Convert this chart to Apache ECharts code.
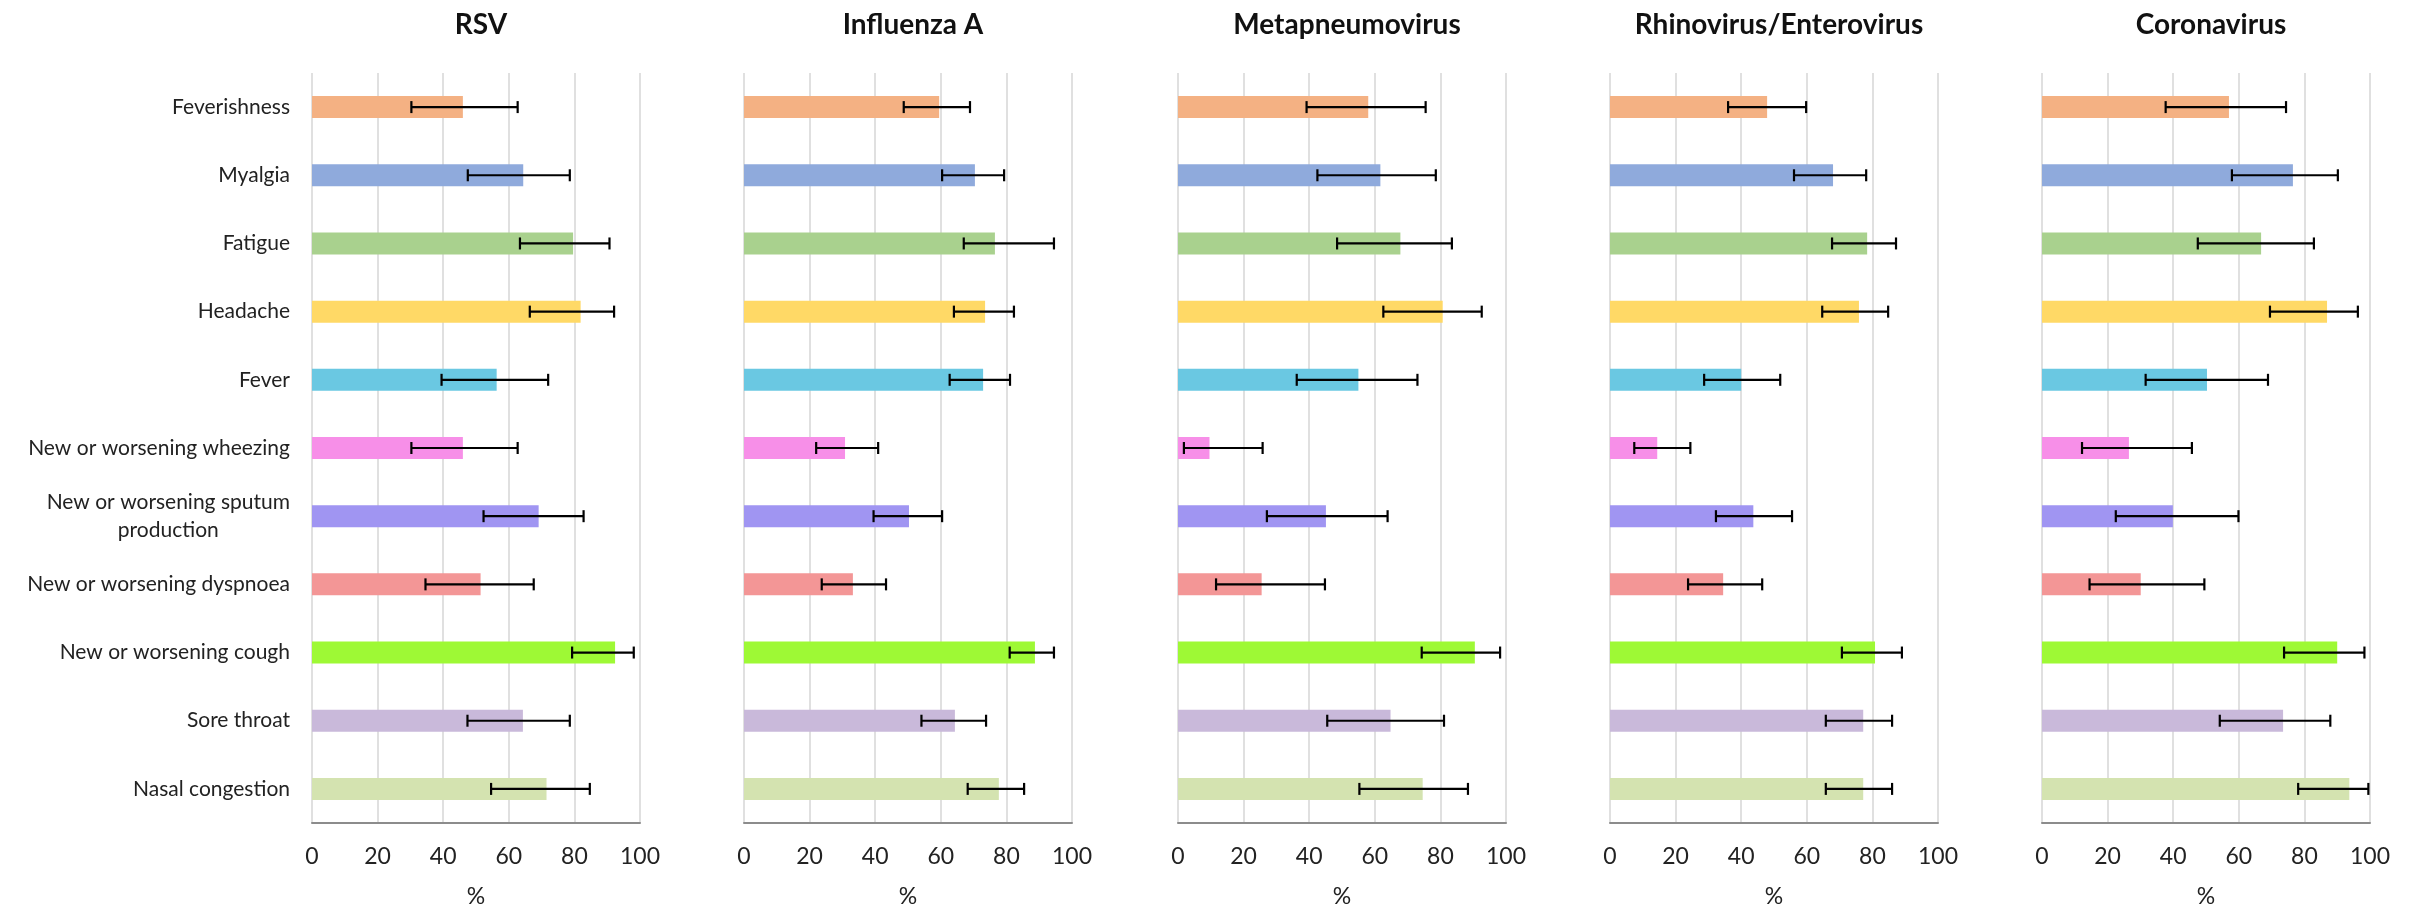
<!DOCTYPE html>
<html>
<head>
<meta charset="utf-8">
<title>Symptoms by virus</title>
<script src="https://cdn.jsdelivr.net/npm/echarts@6/dist/echarts.min.js"></script>
<style>
  html, body { margin: 0; padding: 0; background: #fff; }
  #chart { width: 2420px; height: 907px; }
</style>
</head>
<body>
<div id="chart"></div>
<script>
// categories, top to bottom
const symptoms = [
  "Feverishness",
  "Myalgia",
  "Fatigue",
  "Headache",
  "Fever",
  "New or worsening wheezing",
  "New or worsening sputum\nproduction",
  "New or worsening dyspnoea",
  "New or worsening cough",
  "Sore throat",
  "Nasal congestion"
];
const symptomColors = [
  "#F4B183", "#8FAADC", "#A9D18E", "#FFD966", "#6AC8E2", "#F78FE8",
  "#A095F2", "#F39696", "#9EF935", "#C9B9DA", "#D4E3B0"
];
const viruses = ["RSV", "Influenza A", "Metapneumovirus", "Rhinovirus/Enterovirus", "Coronavirus"];
const xTicks = [0, 20, 40, 60, 80, 100];

// % and 95% CI per virus
const rsvPct  = [46.0, 64.4, 79.6, 81.9, 56.3, 46.0, 69.1, 51.4, 92.4, 64.3, 71.5];
const rsvLow  = [30.3, 47.5, 63.4, 66.4, 39.5, 30.3, 52.3, 34.6, 79.3, 47.4, 54.6];
const rsvHigh = [62.7, 78.6, 90.7, 92.1, 72.0, 62.7, 82.8, 67.6, 98.1, 78.6, 84.7];

const fluPct  = [59.5, 70.4, 76.5, 73.5, 72.9, 30.8, 50.3, 33.2, 88.7, 64.3, 77.7];
const fluLow  = [48.7, 60.4, 67.0, 64.0, 62.7, 22.0, 39.5, 23.7, 81.0, 54.1, 68.2];
const fluHigh = [68.9, 79.3, 94.5, 82.3, 81.1, 40.9, 60.4, 43.3, 94.5, 73.8, 85.4];

const mpvPct  = [58.0, 61.7, 67.8, 80.7, 55.0, 9.6, 45.1, 25.5, 90.5, 64.8, 74.6];
const mpvLow  = [39.2, 42.5, 48.5, 62.6, 36.2, 1.8, 27.1, 11.6, 74.3, 45.5, 55.3];
const mpvHigh = [75.5, 78.6, 83.5, 92.6, 73.0, 25.8, 63.9, 44.8, 98.2, 81.1, 88.4];

const rhvPct  = [47.9, 68.0, 78.4, 75.9, 40.0, 14.4, 43.7, 34.5, 80.8, 77.2, 77.2];
const rhvLow  = [36.0, 56.1, 67.7, 64.7, 28.7, 7.4, 32.3, 23.8, 70.7, 65.8, 65.8];
const rhvHigh = [59.8, 78.1, 87.2, 84.8, 51.9, 24.5, 55.5, 46.4, 89.0, 86.0, 86.0];

const covPct  = [57.0, 76.5, 66.8, 86.9, 50.3, 26.5, 39.9, 30.1, 90.0, 73.5, 93.7];
const covLow  = [37.7, 57.9, 47.5, 69.5, 31.6, 12.2, 22.5, 14.5, 73.8, 54.2, 78.1];
const covHigh = [74.4, 90.2, 82.9, 96.3, 68.9, 45.7, 59.9, 49.5, 98.3, 87.9, 99.5];

const panels = [
  [rsvPct, rsvLow, rsvHigh],
  [fluPct, fluLow, fluHigh],
  [mpvPct, mpvLow, mpvHigh],
  [rhvPct, rhvLow, rhvHigh],
  [covPct, covLow, covHigh]
];

const FONT = "Lato, 'Liberation Sans', sans-serif";
const lefts = [312, 744, 1178, 1610, 2042];
const plotW = 328;

let grids = [], xAxes = [], yAxes = [], titles = [], series = [];

panels.forEach((p, i) => {
  grids.push({ left: lefts[i], width: plotW, top: 73, height: 750, outerBoundsMode: "none", containLabel: false });
  titles.push({
    text: viruses[i],
    left: lefts[i] + plotW / 2,
    top: 6,
    textAlign: "center",
    textStyle: { fontFamily: FONT, fontSize: 28, fontWeight: "bold", color: "#111" }
  });
  xAxes.push({
    type: "value",
    gridIndex: i,
    min: xTicks[0],
    max: xTicks[xTicks.length - 1],
    interval: 20,
    name: "%",
    nameLocation: "middle",
    nameGap: 62,
    nameTextStyle: { fontFamily: FONT, fontSize: 23, color: "#222" },
    axisLine: { show: true, lineStyle: { color: "#8c8c8c", width: 2 } },
    axisTick: { show: false },
    axisLabel: { fontFamily: FONT, fontSize: 23, color: "#222", margin: 22 },
    splitLine: { show: true, lineStyle: { color: "#d9d9d9", width: 1.6 } }
  });
  yAxes.push({
    type: "category",
    gridIndex: i,
    data: symptoms,
    inverse: true,
    axisLine: { show: false },
    axisTick: { show: false },
    axisLabel: {
      show: i === 0,
      margin: 22,
      fontFamily: FONT,
      fontSize: 21,
      color: "#222",
      lineHeight: 28,
      formatter: function (v) {
        return v.split("\n").map(s => "{c|" + s + "}").join("\n");
      },
      rich: { c: { align: "center", fontFamily: FONT, fontSize: 21, color: "#222", lineHeight: 28 } }
    }
  });
  series.push({
    type: "bar",
    xAxisIndex: i,
    yAxisIndex: i,
    barWidth: 22,
    silent: true,
    data: p[0].map((v, k) => ({ value: v, itemStyle: { color: symptomColors[k] } }))
  });
  series.push({
    type: "custom",
    xAxisIndex: i,
    yAxisIndex: i,
    silent: true,
    z: 5,
    encode: { x: [1, 2], y: 0 },
    data: p[1].map((lo, k) => [k, lo, p[2][k]]),
    renderItem: function (params, api) {
      const c = api.value(0);
      const a = api.coord([api.value(1), c]);
      const b = api.coord([api.value(2), c]);
      const h = 6;
      const st = { stroke: "#000", lineWidth: 2.2 };
      return {
        type: "group",
        children: [
          { type: "line", shape: { x1: a[0], y1: a[1], x2: b[0], y2: b[1] }, style: st },
          { type: "line", shape: { x1: a[0], y1: a[1] - h, x2: a[0], y2: a[1] + h }, style: st },
          { type: "line", shape: { x1: b[0], y1: b[1] - h, x2: b[0], y2: b[1] + h }, style: st }
        ]
      };
    }
  });
});

const chart = echarts.init(document.getElementById("chart"));
chart.setOption({
  animation: false,
  backgroundColor: "#fff",
  title: titles,
  grid: grids,
  xAxis: xAxes,
  yAxis: yAxes,
  series: series
});
</script>
</body>
</html>
